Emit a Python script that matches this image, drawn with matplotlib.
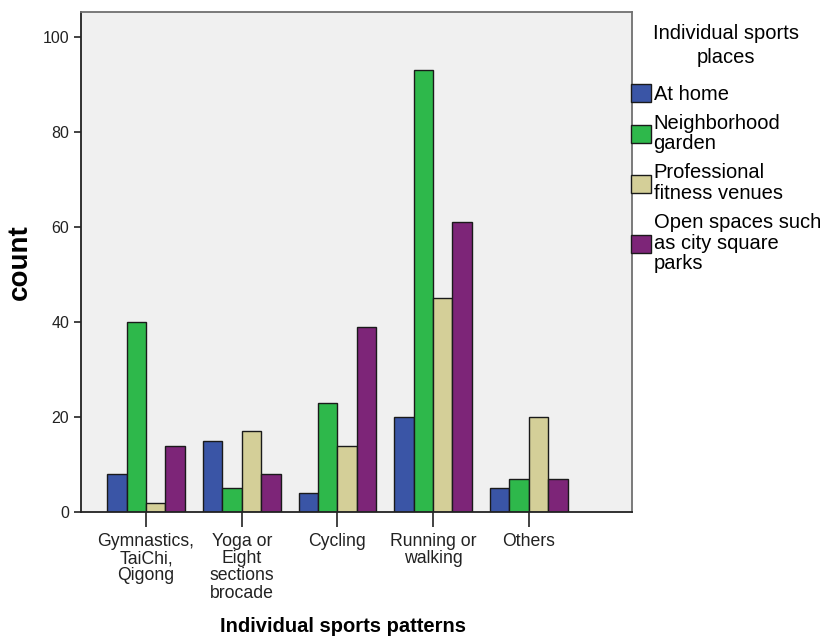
import numpy as np
import matplotlib
matplotlib.use("Agg")
import matplotlib.pyplot as plt

plt.rcParams['font.family'] = ['Liberation Sans', 'DejaVu Sans']

# Data
patterns = ["Gymnastics,\nTaiChi,\nQigong", "Yoga or\nEight\nsections\nbrocade",
            "Cycling", "Running or\nwalking", "Others"]
places = ["At home", "Neighborhood\ngarden", "Professional\nfitness venues",
          "Open spaces such\nas city square\nparks"]
at_home = [8, 15, 4, 20, 5]
neighborhood = [40, 5, 23, 93, 7]
professional = [2, 17, 14, 45, 20]
open_spaces = [14, 8, 39, 61, 7]

colors = ["#3a55a6", "#2eb84b", "#d4cf98", "#7d2578"]
series = [at_home, neighborhood, professional, open_spaces]

fig = plt.figure(figsize=(8.36, 6.4), dpi=100)
ax = fig.add_axes([81 / 836, 1 - 512 / 640, (632 - 81) / 836, (512 - 12) / 640])
ax.set_facecolor("#f0f0f0")

x = np.arange(len(patterns))
w = 0.203
for i, (vals, c, lab) in enumerate(zip(series, colors, places)):
    ax.bar(x + (i - 1.5) * w, vals, width=w, color=c, edgecolor="#1a1a1a",
           linewidth=1.0, label=lab)

ax.set_xlim(-0.68, 5.08)
ax.set_ylim(0, 105.3)
ax.set_yticks([0, 20, 40, 60, 80, 100])
ax.set_xticks(x)
ax.set_xticklabels(patterns, fontsize=12.7, linespacing=1.02)
ax.tick_params(axis="y", labelsize=11.5, length=5, width=1.2, colors="#222222")
ax.tick_params(axis="x", length=11, width=1.2, colors="#222222", pad=4)
for s in ["left", "bottom"]:
    ax.spines[s].set_color("#222222")
    ax.spines[s].set_linewidth(1.3)
for s in ["top", "right"]:
    ax.spines[s].set_color("#707070")
    ax.spines[s].set_linewidth(1.3)

ax.set_ylabel("count", fontsize=20, fontweight="bold")
ax.yaxis.set_label_coords(-61 / 551, 0.5)
ax.set_xlabel("Individual sports patterns", fontsize=14.5, fontweight="bold")
ax.xaxis.set_label_coords((343 - 81) / 551, -(626 - 512) / 500)
ax.xaxis.label.set_va("center")
ax.yaxis.label.set_va("center")

leg = fig.legend(loc="upper left", bbox_to_anchor=(631 / 836, 1 - 24 / 640),
                 title="Individual sports\nplaces", fontsize=14.5, title_fontsize=14.5,
                 frameon=False, handlelength=1.0, handleheight=1.0,
                 handletextpad=0.12, labelspacing=0.5, borderaxespad=0,
                 borderpad=0)
for t in leg.get_texts():
    t.set_linespacing(1.1)
leg.get_title().set_linespacing(1.35)
leg.get_title().set_multialignment("center")
leg._legend_box.sep = 12

fig.savefig("out.png", dpi=100)
